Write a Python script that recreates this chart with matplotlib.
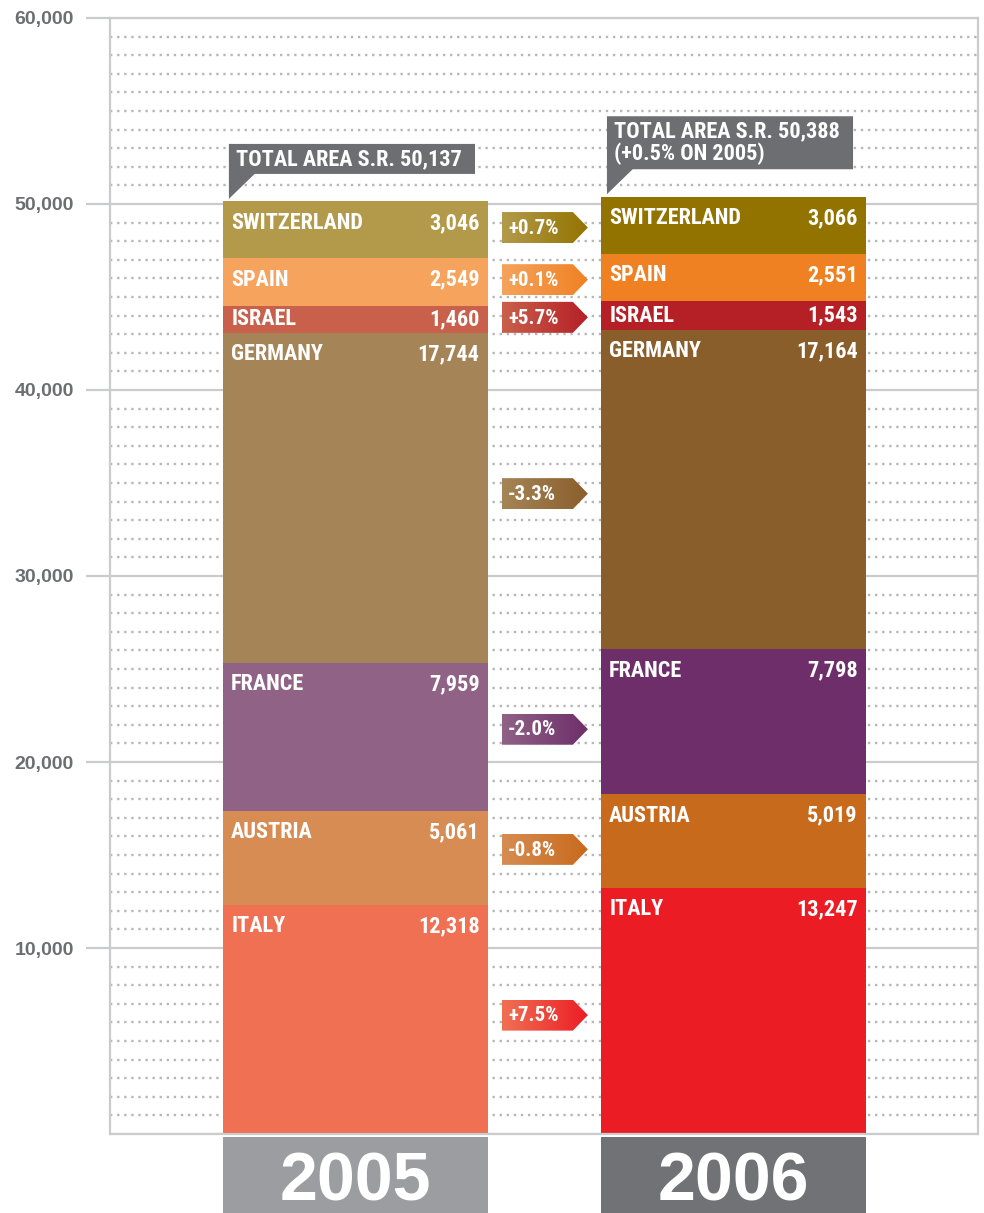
import matplotlib
matplotlib.use("Agg")
import matplotlib.pyplot as plt
import numpy as np
from matplotlib import font_manager
from matplotlib.patches import Polygon, Rectangle
from matplotlib.colors import to_rgb

# datos (de abajo hacia arriba)
paises = ["ITALY", "AUSTRIA", "FRANCE", "GERMANY", "ISRAEL", "SPAIN", "SWITZERLAND"]
anios = ["2005", "2006"]
valores_2005 = [12318, 5061, 7959, 17744, 1460, 2549, 3046]
valores_2006 = [13247, 5019, 7798, 17164, 1543, 2551, 3066]
colores_2005 = ["#F07053", "#D68C52", "#8F6286", "#A58457", "#C9604B", "#F5A35D", "#B39A4A"]
colores_2006 = ["#EC1C24", "#C86A1C", "#6E2E6A", "#8A5E2B", "#B51F26", "#F08122", "#937300"]
color_anio = ["#9C9DA1", "#717276"]
notas = ["TOTAL AREA S.R. 50,137", "TOTAL AREA S.R. 50,388\n(+0.5% ON 2005)"]

# fuente condensada si existe
nombres = {f.name for f in font_manager.fontManager.ttflist}
COND = "DejaVu Sans"
for n in ["Liberation Sans Narrow", "Roboto Condensed", "Open Sans Condensed"]:
    if n in nombres:
        COND = n
        break
NORMAL = "Liberation Sans" if "Liberation Sans" in nombres else "DejaVu Sans"

gris_txt = "#6D6E71"
gris_lin = "#CACBCD"

fig = plt.figure(figsize=(9.84, 12.13), dpi=100)
ax = fig.add_axes([110/984, 1-1134/1213, (978-110)/984, (1134-18)/1213])

ancho = 0.701
x = np.arange(len(anios))
ax.set_xlim(-0.649, 1.647)
ax.set_ylim(0, 60000)

# rejilla
ax.set_yticks(range(0, 60001, 10000))
ax.set_yticklabels([""] + [f"{v:,}" for v in range(10000, 60001, 10000)])
ax.set_yticks([v for v in range(1000, 60000, 1000) if v % 10000], minor=True)
ax.grid(which="major", axis="y", color=gris_lin, lw=1.6, zorder=0)
ax.grid(which="minor", axis="y", color="#B5B7B9", lw=1.7, ls=(0, (1, 2)), zorder=0)
ax.tick_params(axis="y", which="major", length=17, width=1.6, color=gris_lin, pad=9,
               labelcolor=gris_txt, labelsize=14)
ax.tick_params(axis="y", which="minor", length=0)
ax.tick_params(axis="x", length=0, labelbottom=False)
for lab in ax.get_yticklabels():
    lab.set_fontweight("bold")
    lab.set_fontfamily(NORMAL)
for s in ax.spines.values():
    s.set_color(gris_lin)
    s.set_linewidth(1.6)
ax.yaxis.get_major_ticks()[0].tick1line.set_visible(False)

datos = [valores_2005, valores_2006]
colores = [colores_2005, colores_2006]
data_px = 60000 / 1116.0

for i, (vals, cols) in enumerate(zip(datos, colores)):
    base = np.concatenate([[0], np.cumsum(vals)[:-1]])
    ax.bar(x[i], vals, ancho, bottom=base, color=cols, zorder=2, linewidth=0)
    izq = x[i] - ancho/2
    der = x[i] + ancho/2
    for p, v, b in zip(paises, vals, base):
        tope = b + v
        yy = tope - min(21.5*data_px, v/2)
        ax.text(izq + 0.022, yy, p, color="white", fontsize=16, fontweight="bold",
                family=COND, va="center", ha="left", zorder=5)
        ax.text(der - 0.022, yy, f"{v:,}", color="white", fontsize=16, fontweight="bold",
                family=COND, va="center", ha="right", zorder=5)
    # nota del total
    total = sum(vals)
    lineas = notas[i].count("\n") + 1
    alto = (30 if lineas == 1 else 53) * data_px
    l0 = izq + 0.016
    r0 = l0 + 0.651
    yb = total + 1480
    poly = [(l0, yb + alto), (r0, yb + alto), (r0, yb), (l0 + 0.068, yb), (l0, total + 140)]
    ax.add_patch(Polygon(poly, closed=True, color=gris_txt, zorder=4, lw=0))
    ax.text(l0 + 0.019, yb + alto/2, notas[i], color="white", fontsize=16,
            fontweight="bold", family=COND, va="center", ha="left", zorder=5,
            linespacing=1.05)
    # caja del anio
    ax.add_patch(Rectangle((izq, -160), ancho, -4090, color=color_anio[i],
                           clip_on=False, zorder=3, lw=0))
    ax.text(x[i], -3580, anios[i], color="white", fontsize=49, fontweight="bold",
            family=NORMAL, ha="center", va="baseline", clip_on=False, zorder=5)

# etiquetas de variacion con degradado
b05 = np.concatenate([[0], np.cumsum(valores_2005)[:-1]])
b06 = np.concatenate([[0], np.cumsum(valores_2006)[:-1]])
tx0, tx1, tx2 = 0.3876, 0.5754, 0.6151
media_alto = 15.5 * data_px
for k in range(len(paises)):
    yc = ((b05[k] + valores_2005[k]/2) + (b06[k] + valores_2006[k]/2)) / 2
    var = (valores_2006[k] / valores_2005[k] - 1) * 100
    pts = [(tx0, yc - media_alto), (tx1, yc - media_alto), (tx2, yc),
           (tx1, yc + media_alto), (tx0, yc + media_alto)]
    forma = Polygon(pts, closed=True, facecolor="none", edgecolor="none")
    ax.add_patch(forma)
    c0 = np.array(to_rgb(colores_2005[k]))
    c1 = np.array(to_rgb(colores_2006[k]))
    t = np.linspace(0, 1, 100)[:, None]
    grad = (c0 * (1 - t) + c1 * t)[None, :, :]
    im = ax.imshow(grad, extent=[tx0, tx2, yc - media_alto, yc + media_alto],
                   aspect="auto", zorder=3, interpolation="bilinear")
    im.set_clip_path(forma)
    ax.text(tx0 + 0.016, yc - 40, f"{var:+.1f}%", color="white", fontsize=15,
            fontweight="bold", family=COND, va="center", ha="left", zorder=5)

ax.set_xlim(-0.649, 1.647)
ax.set_ylim(0, 60000)

plt.savefig("out.png", dpi=100)
